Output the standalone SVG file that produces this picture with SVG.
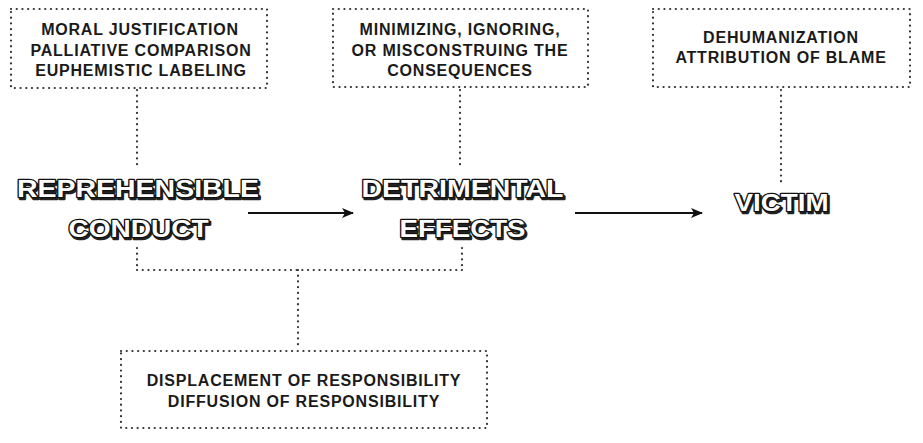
<svg xmlns="http://www.w3.org/2000/svg" width="923" height="443" viewBox="0 0 923 443">
<defs>
<style>
.box{fill:none;stroke:#333;stroke-width:2.2;stroke-linecap:round;stroke-dasharray:0.1 5.6}
.dot{fill:none;stroke:#333;stroke-width:2.2;stroke-linecap:round;stroke-dasharray:0.1 5.6}
.lbl{font-family:"Liberation Sans",Arial,sans-serif;font-weight:bold;font-size:16px;letter-spacing:0.8px;fill:#1a1a1a;text-anchor:middle}
.big{font-family:"Liberation Sans",Arial,sans-serif;font-weight:bold;font-size:24px;text-anchor:middle;paint-order:stroke;stroke-linejoin:round}
.shadow{fill:#222;stroke:#222;stroke-width:2.6}
.face{fill:#fff;stroke:#111;stroke-width:2.4}
.arr{stroke:#111;stroke-width:2.2;fill:none}
</style>
<marker id="ah" viewBox="0 0 12 10" refX="11" refY="5" markerWidth="12" markerHeight="10" markerUnits="userSpaceOnUse" orient="auto">
<path d="M0,0 L12,5 L0,10 L3,5 Z" fill="#111"/>
</marker>
</defs>
<rect width="923" height="443" fill="#fff"/>

<g id="connectors">
<line class="dot" x1="137" y1="90" x2="137" y2="168"/>
<line class="dot" x1="460" y1="90" x2="460" y2="166"/>
<line class="dot" x1="781" y1="90" x2="781" y2="183"/>
<line class="dot" x1="137" y1="248" x2="137" y2="270"/>
<line class="dot" x1="462" y1="248" x2="462" y2="270"/>
<line class="dot" x1="137" y1="270" x2="462" y2="270"/>
<line class="dot" x1="298" y1="270" x2="298" y2="349"/>
<line class="arr" x1="248" y1="213" x2="353" y2="213" marker-end="url(#ah)"/>
<line class="arr" x1="575" y1="213" x2="702" y2="213" marker-end="url(#ah)"/>
</g>

<g id="box-moral">
<rect class="box" x="11" y="9" width="256" height="79"/>
<text class="lbl" x="140" y="35">MORAL JUSTIFICATION</text>
<text class="lbl" x="141" y="55.5">PALLIATIVE COMPARISON</text>
<text class="lbl" x="141" y="76">EUPHEMISTIC LABELING</text>
</g>

<g id="box-minimizing">
<rect class="box" x="333" y="9" width="255" height="78"/>
<text class="lbl" x="460" y="35">MINIMIZING, IGNORING,</text>
<text class="lbl" x="460" y="55.5">OR MISCONSTRUING THE</text>
<text class="lbl" x="460" y="76">CONSEQUENCES</text>
</g>

<g id="box-dehumanization">
<rect class="box" x="653" y="9" width="257" height="78"/>
<text class="lbl" x="781" y="43">DEHUMANIZATION</text>
<text class="lbl" x="781" y="63">ATTRIBUTION OF BLAME</text>
</g>

<g id="box-displacement">
<rect class="box" x="121" y="351" width="366" height="77"/>
<text class="lbl" x="304" y="386">DISPLACEMENT OF RESPONSIBILITY</text>
<text class="lbl" x="304" y="407">DIFFUSION OF RESPONSIBILITY</text>
</g>

<g id="node-conduct">
<text class="big shadow" x="139.5" y="198.5" textLength="242" lengthAdjust="spacingAndGlyphs">REPREHENSIBLE</text>
<text class="big face" x="138" y="197" textLength="242" lengthAdjust="spacingAndGlyphs">REPREHENSIBLE</text>
<text class="big shadow" x="140" y="238.5" textLength="140" lengthAdjust="spacingAndGlyphs">CONDUCT</text>
<text class="big face" x="138.5" y="237" textLength="140" lengthAdjust="spacingAndGlyphs">CONDUCT</text>
</g>

<g id="node-effects">
<text class="big shadow" x="464" y="198.5" textLength="202" lengthAdjust="spacingAndGlyphs">DETRIMENTAL</text>
<text class="big face" x="462.5" y="197" textLength="202" lengthAdjust="spacingAndGlyphs">DETRIMENTAL</text>
<text class="big shadow" x="464" y="238.5" textLength="126" lengthAdjust="spacingAndGlyphs">EFFECTS</text>
<text class="big face" x="462.5" y="237" textLength="126" lengthAdjust="spacingAndGlyphs">EFFECTS</text>
</g>

<g id="node-victim">
<text class="big shadow" x="783" y="212.5" textLength="94" lengthAdjust="spacingAndGlyphs">VICTIM</text>
<text class="big face" x="781.5" y="211" textLength="94" lengthAdjust="spacingAndGlyphs">VICTIM</text>
</g>
</svg>
